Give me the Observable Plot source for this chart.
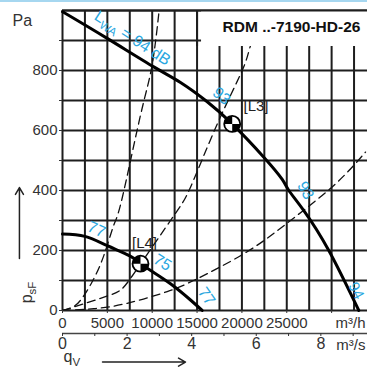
<!DOCTYPE html>
<html><head><meta charset="utf-8">
<script src="https://cdn.jsdelivr.net/npm/d3@7"></script>
<script src="https://cdn.jsdelivr.net/npm/@observablehq/plot@0.6"></script>
<style>
html,body{margin:0;padding:0;background:#fff;}
#wrap{position:relative;width:367px;height:367px;overflow:hidden;}
#topbar{position:absolute;left:0;top:0;width:367px;height:2px;background:#a6d7f0;}
svg{display:block;}
</style></head><body><div id="wrap"><div id="topbar"></div></div>
<script>
// grid and tick values
const xGrid = [0,2500,5000,7500,10000,12500,15000,17500,20000,22500,25000,27500,30000,32500];
const yGrid = [0,100,200,300,400,500,600,700,800,900,1000];
const xTicks = [0,5000,10000,15000,20000,25000,30000];
const xTickLabels = [0,5000,10000,15000,20000,25000];
const yTickLabels = [0,200,400,600,800];
const yMinorTicks = [100,300,500,700,900];
const msTicks = [0,1,2,3,4,5,6,7,8,9];
const msLabels = [0,2,4,6,8];

// fan curves (q in m³/h, p in Pa)
const mainQ = [0,4983,10178,13155,16131,18918,22441,24492,25228,26900,29687,33031];
const mainP = [996,907,812,760,696,622,511,437,400,333,200,0];
const smallQ = [0,2500,5000,7500,8700,10000,12040,14270,15574];
const smallP = [255,247,216,182,157,130,89,35,0];

// system curves (dashed)
const sys1Q = [0,1000,2007,3311,4604,5719,6655,8695,9999,10735,10780];
const sys1P = [0,9,34,96,183,285,375,651,820,990,1000];
const sys2Q = [0,5351,7770,12040,14270,17257,20033,20958,22400];
const sys2P = [0,52,115,300,411,622,800,883,1000];
const sys3Q = [0,3489,7213,11672,15016,20590,25418,30245,33778];
const sys3P = [0,6,24,63,106,196,300,417,528];

// operating points
const opNames = ["[L3]","[L4]"];
const opQ = [18918,8695];
const opP = [622,156];
const opLabelQ = [21571,9141];
const opLabelP = [682,223];

// sound level labels
const dbText = ["LWA = 94 dB","93","93","94","77","75","77"];
const dbQ = [7800,17725,27090,32750,3790,11148,16053];
const dbP = [908,715,400,66,270,160,47];
const dbRot = [33,40,60,62,24,32,55];
const dbSize = [16,16,16,15,16,16,16];

const title = "RDM ..-7190-HD-26";

const zip = (qs, ps) => qs.map((q,i) => ({q, p: ps[i]}));
const mainCurve = zip(mainQ, mainP);
const smallCurve = zip(smallQ, smallP);
const systems = [zip(sys1Q, sys1P), zip(sys2Q, sys2P), zip(sys3Q, sys3P)];
const ops = opNames.map((n,i) => ({n, q: opQ[i], p: opP[i], lq: opLabelQ[i], lp: opLabelP[i]}));
const dbs = dbText.map((t,i) => ({t, q: dbQ[i], p: dbP[i], r: dbRot[i], s: dbSize[i]}));

const quarters = {draw(ctx, size){
  const r = Math.sqrt(size/Math.PI);
  ctx.moveTo(0,0); ctx.lineTo(-r,0); ctx.arc(0,0,r,Math.PI,1.5*Math.PI); ctx.closePath();
  ctx.moveTo(0,0); ctx.lineTo(r,0); ctx.arc(0,0,r,0,0.5*Math.PI); ctx.closePath();
}};

const gridColor = "#1e1e1e";
const textColor = "#333";
const blue = "#2aa7e0";
const font = "'Liberation Sans', Arial, Helvetica, sans-serif";

const svg = Plot.plot({
  width: 367, height: 367,
  marginTop: 10, marginBottom: 57, marginLeft: 62, marginRight: 0,
  x: {domain: [0,34000], axis: null},
  y: {domain: [0,1000], axis: null},
  style: {fontFamily: font, fontSize: "15px", color: textColor, background: "white"},
  marks: [
    Plot.ruleX(xGrid, {stroke: gridColor, strokeWidth: 2}),
    Plot.ruleY(yGrid, {stroke: gridColor, strokeWidth: 2}),
    ...systems.map(s => Plot.line(s, {x: "q", y: "p", curve: "natural", stroke: "#111", strokeWidth: 1.3, strokeDasharray: "8,5", clip: true})),
    Plot.rect([0], {x1: () => 15500, x2: () => 34000, y1: () => 880, y2: () => 1000, fill: "white"}),
    Plot.ruleY([1000], {stroke: gridColor, strokeWidth: 2}),
    Plot.ruleX([15000], {y1: 880, y2: 1000, stroke: gridColor, strokeWidth: 2}),
    Plot.text([title], {frameAnchor: "top-right", dx: -76, dy: 17, textAnchor: "middle", lineAnchor: "middle", fontWeight: "bold", fontSize: 15.5, fill: "#111"}),
    Plot.line(mainCurve, {x: "q", y: "p", curve: "natural", stroke: "#000", strokeWidth: 3}),
    Plot.line(smallCurve, {x: "q", y: "p", curve: "natural", stroke: "#000", strokeWidth: 3}),
    Plot.dot(ops, {x: "q", y: "p", r: 8, fill: "white", stroke: "#000", strokeWidth: 1.8}),
    Plot.dot(ops, {x: "q", y: "p", r: 8, symbol: quarters, fill: "#000", stroke: "none"}),
    Plot.text(ops, {x: "lq", y: "lp", text: "n", fontSize: 15, fill: "#222"}),
    Plot.text(dbs, {x: "q", y: "p", text: "t", rotate: "r", fill: blue, fontSize: "s"}),
    // y axis
    Plot.axisY(yTickLabels, {anchor: "left", tickSize: 3, tickPadding: 2, fontSize: 15, label: null, color: textColor}),
    Plot.axisY(yMinorTicks, {anchor: "left", tickSize: 3, tickFormat: () => "", label: null, color: textColor}),
    // m³/h axis
    Plot.axisX(xTicks, {anchor: "bottom", tickSize: 3, tickPadding: 4, fontSize: 15, label: null, color: textColor,
      tickFormat: d => xTickLabels.includes(d) ? String(d) : ""}),
    // m³/s axis
    Plot.ruleY([0], {dy: 23, stroke: "#444", strokeWidth: 1.5}),
    Plot.axisX(msTicks.map(v => v*3600), {anchor: "bottom", dy: 23, tickSize: 3, tickPadding: 1, fontSize: 16, label: null, color: textColor,
      tickFormat: d => msLabels.includes(Math.round(d/3600)) ? String(Math.round(d/3600)) : ""}),
    Plot.text(["m³/h"], {frameAnchor: "bottom-right", dx: -2, dy: 13, textAnchor: "end", lineAnchor: "middle", fontSize: 15, fill: textColor}),
    Plot.text(["m³/s"], {frameAnchor: "bottom-right", dx: -2, dy: 35, textAnchor: "end", lineAnchor: "middle", fontSize: 15, fill: textColor}),
    // axis titles
    Plot.text(["Pa"], {frameAnchor: "top-left", dx: -50, dy: 10, textAnchor: "start", lineAnchor: "middle", fontSize: 16, fill: textColor}),
    Plot.text(["psF"], {frameAnchor: "bottom-left", dx: -36, dy: -18, textAnchor: "middle", lineAnchor: "middle", rotate: -90, fontSize: 16, fill: textColor}),
    Plot.text(["qV"], {frameAnchor: "bottom-left", dx: 1, dy: 46, textAnchor: "start", lineAnchor: "middle", fontSize: 16, fill: textColor}),
    Plot.arrow([0], {x1: () => -4800, x2: () => -4800, y1: () => 173, y2: () => 410, stroke: "#222", strokeWidth: 1.5, headLength: 8, clip: false}),
    Plot.arrow([0], {x1: () => 4460, x2: () => 13710, y1: () => -172, y2: () => -172, stroke: "#222", strokeWidth: 1.5, headLength: 8, clip: false})
  ]
});

// subscripts
const subs = {"LWA = 94 dB": ["L","WA"," = 94 dB"], "psF": ["p","sF",""], "qV": ["q","V",""]};
d3.select(svg).selectAll("text").each(function(){
  const t = this.textContent;
  if (subs[t]) {
    const [a,b,c] = subs[t];
    const el = d3.select(this);
    el.text(null);
    el.append("tspan").text(a);
    el.append("tspan").attr("font-size","0.72em").attr("dy", 4).text(b);
    if (c) el.append("tspan").attr("dy", -4).text(c);
  }
});

document.getElementById("wrap").insertBefore(svg, document.getElementById("topbar"));
</script></body></html>
